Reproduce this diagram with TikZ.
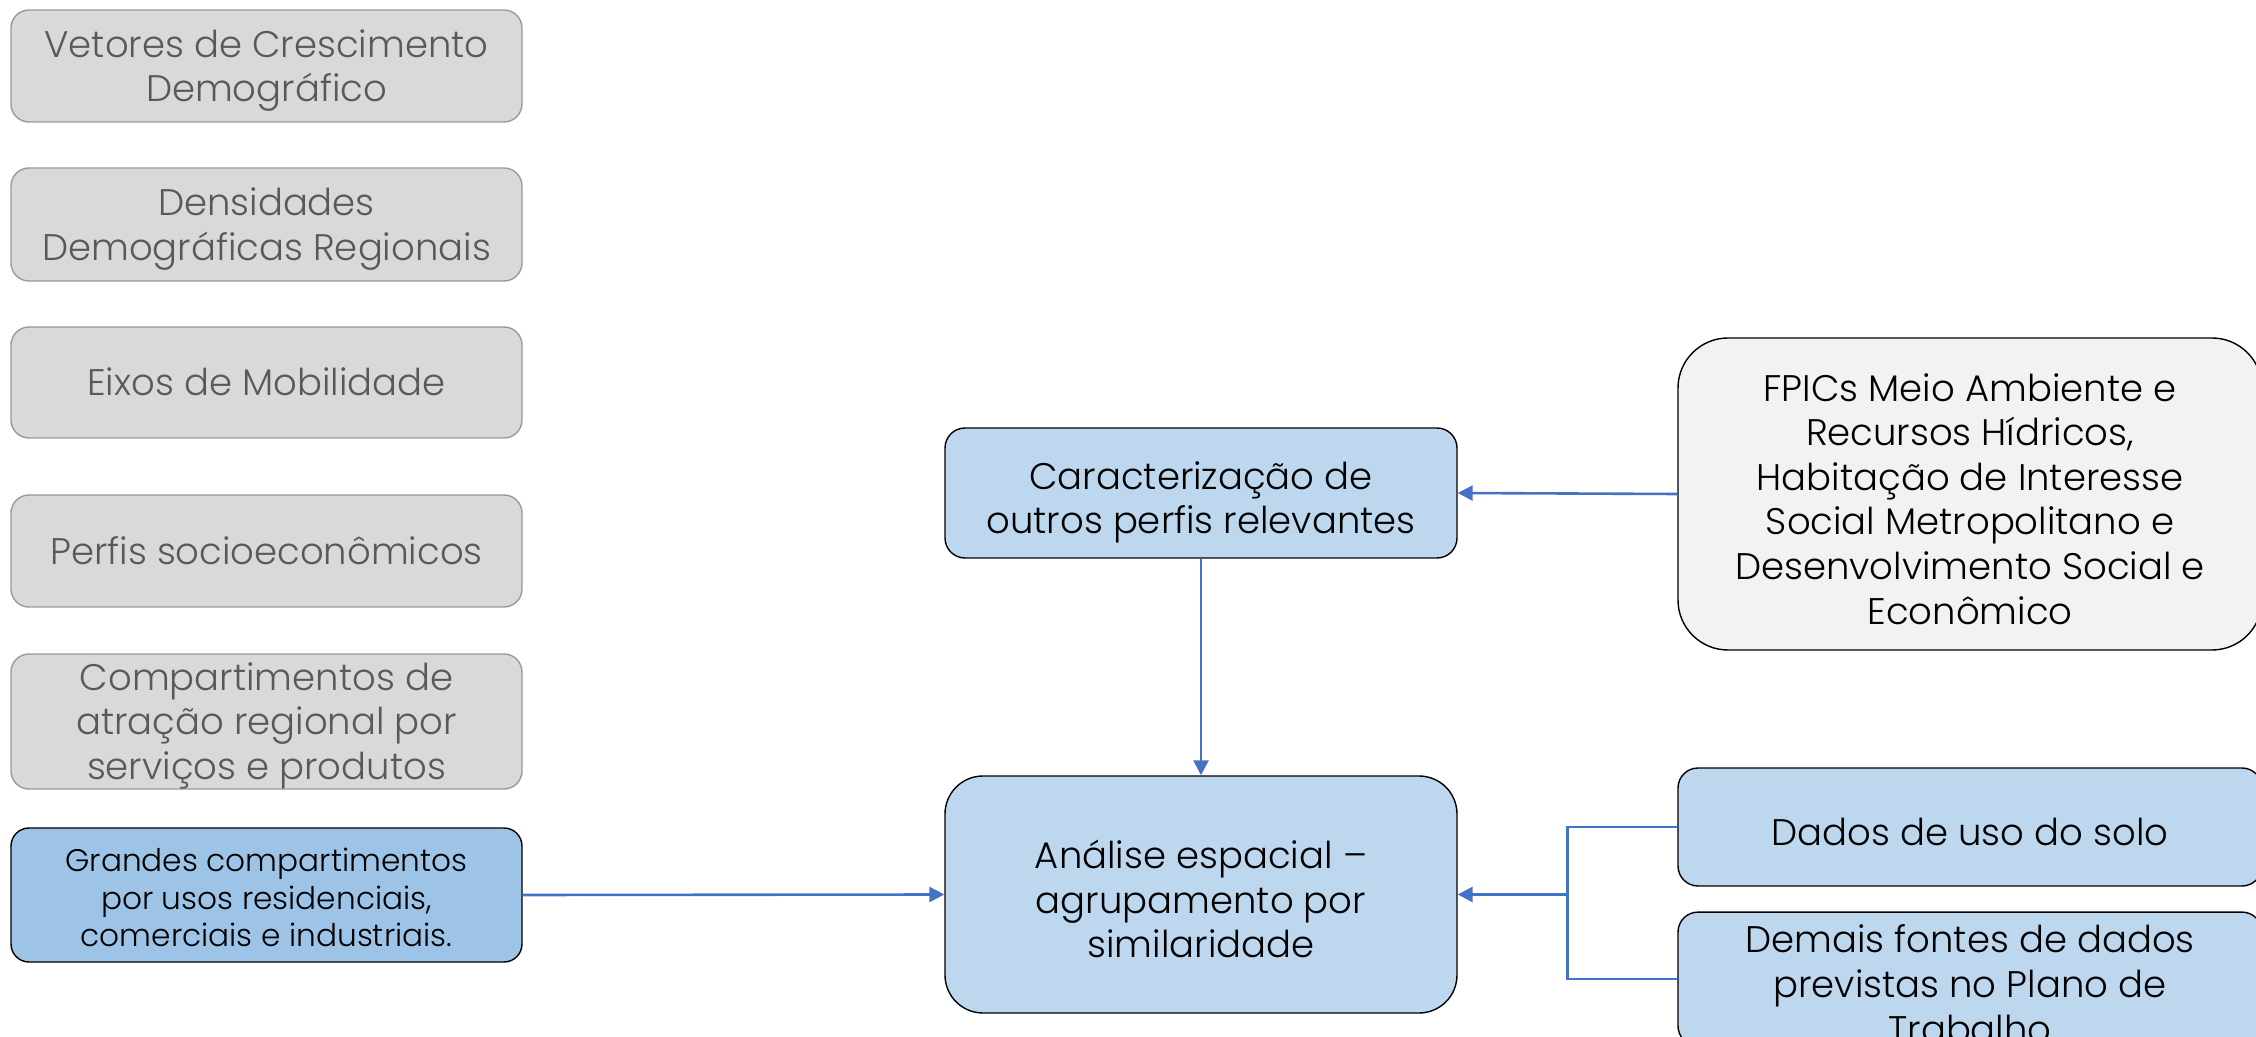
\documentclass[tikz,border=0pt]{standalone}
\usepackage{fontspec}
\setmainfont{Poppins Light}
\usepackage{xcolor}
\usepackage{tikz}
\usetikzlibrary{arrows.meta, positioning, calc}
\definecolor{grayfill}{HTML}{D9D9D9}
\definecolor{grayline}{HTML}{9A9A9A}
\definecolor{graytext}{HTML}{595959}
\definecolor{bluedark}{HTML}{9DC3E6}
\definecolor{bluelight}{HTML}{BDD7EE}
\definecolor{paleback}{HTML}{F2F2F2}
\definecolor{linkblue}{HTML}{4472C4}
\def\txtdrop{-0.12em}
\newcommand{\lines}[1]{\raisebox{\txtdrop}[\height][\depth]{\begin{tabular}{@{}c@{}}#1\end{tabular}}}

\begin{document}
\begin{tikzpicture}[
  x=0.5pt, y=-0.5pt,
  font=\fontsize{18.5}{22.3}\selectfont,
  base/.style={draw, inner sep=0pt, line width=0.7pt},
  graybox/.style={base, draw=grayline, fill=grayfill, text=graytext, rounded corners=9pt, minimum width=255.5pt},
  inbox/.style={base, fill=bluedark, rounded corners=9pt, minimum width=255.5pt, font=\fontsize{15.6}{18.7}\selectfont,
    execute at begin node={\def\txtdrop{-0.21em}}},
  stepbox/.style={base, fill=bluelight, rounded corners=10pt, minimum width=256pt,
    execute at begin node={\def\txtdrop{-0.26em}}},
  srcbox/.style={stepbox, minimum width=292pt},
  link/.style={draw=linkblue, line width=1.3pt},
  arr/.style={link, -{Triangle[length=7.5pt, width=7.5pt]}}
]
\useasboundingbox (0,0) rectangle (2256,1037);

\node[graybox, minimum height=56pt] (vet) at (266.5,66) {\lines{Vetores de Crescimento\\Demográfico}};
\node[graybox, minimum height=56.5pt] (dens) at (266.5,224.5) {\lines{Densidades\\Demográficas Regionais}};
\node[graybox, minimum height=55.5pt] (eixos) at (266.5,382.5) {\lines{Eixos de Mobilidade}};
\node[graybox, minimum height=56pt] (perf) at (266.5,551) {\lines{Perfis socioeconômicos}};
\node[graybox, minimum height=67.5pt] (atr) at (266.5,721.5) {\lines{Compartimentos de\\atração regional por\\serviços e produtos}};
\node[inbox, minimum height=67pt] (usos) at (266.5,895) {\lines{Grandes compartimentos\\por usos residenciais,\\comerciais e industriais.}};

\node[stepbox, minimum height=65pt] (carac) at (1201,493) {\lines{Caracterização de\\outros perfis relevantes}};
\node[stepbox, minimum height=118.5pt, rounded corners=19pt] (anal) at (1201,894.5) {\lines{Análise espacial –\\agrupamento por\\similaridade}};

\node[srcbox, fill=paleback, minimum height=156pt, rounded corners=25pt] (fpic) at (1970,494) {\lines{FPICs Meio Ambiente e\\Recursos Hídricos,\\Habitação de Interesse\\Social Metropolitano e\\Desenvolvimento Social e\\Econômico}};
\node[srcbox, minimum height=59pt] (dados) at (1970,827) {\lines{Dados de uso do solo}};
\node[srcbox, minimum height=58pt] (demais) at (1970,979) {\lines{Demais fontes de dados\\previstas no Plano de\\Trabalho}};

\coordinate (jn) at ($(anal.east)!0.5!(anal.east -| dados.west)$);

\draw[arr] (usos.east) -- (anal.west);
\draw[arr] (fpic.west) -- (carac.east);
\draw[arr] (carac.south) -- (anal.north);
\draw[link] (dados.west) -| (jn) |- (demais.west);
\draw[arr] (jn) -- (anal.east);
\end{tikzpicture}
\end{document}
